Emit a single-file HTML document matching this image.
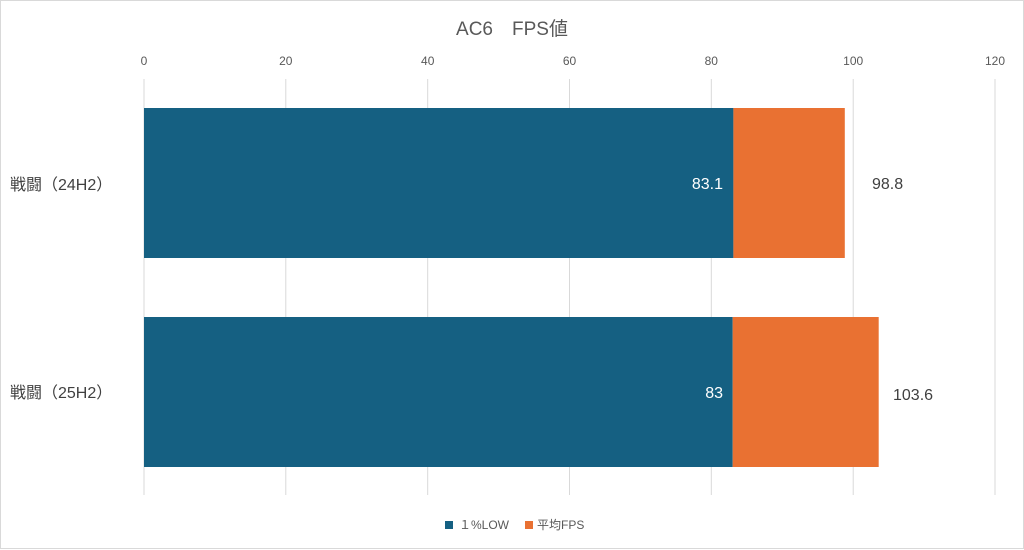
<!DOCTYPE html>
<html><head><meta charset="utf-8"><style>
html,body{margin:0;padding:0;background:#fff;}
svg{display:block;font-family:"Liberation Sans","Noto Sans CJK JP",sans-serif;}
</style></head><body>
<svg width="1024" height="550" viewBox="0 0 1024 550">
<rect x="0.5" y="0.5" width="1023" height="548" fill="#fff" stroke="#d9d9d9"/>
<text x="512" y="35" text-anchor="middle" font-size="19" fill="#595959">AC6　FPS値</text>
<g stroke="#d9d9d9" stroke-width="1">
<line x1="144" y1="79" x2="144" y2="495"/>
<line x1="285.8" y1="79" x2="285.8" y2="495"/>
<line x1="427.7" y1="79" x2="427.7" y2="495"/>
<line x1="569.5" y1="79" x2="569.5" y2="495"/>
<line x1="711.3" y1="79" x2="711.3" y2="495"/>
<line x1="853.2" y1="79" x2="853.2" y2="495"/>
<line x1="995" y1="79" x2="995" y2="495"/>
</g>
<g font-size="12" fill="#595959" text-anchor="middle">
<text x="144" y="65">0</text><text x="285.8" y="65">20</text><text x="427.7" y="65">40</text>
<text x="569.5" y="65">60</text><text x="711.3" y="65">80</text><text x="853.2" y="65">100</text><text x="995" y="65">120</text>
</g>
<rect x="144" y="108" width="589.4" height="150" fill="#156082"/>
<rect x="733.4" y="108" width="111.4" height="150" fill="#e97132"/>
<rect x="144" y="317" width="588.7" height="150" fill="#156082"/>
<rect x="732.7" y="317" width="146" height="150" fill="#e97132"/>
<text x="723" y="189" text-anchor="end" font-size="16" fill="#fff">83.1</text>
<text x="723" y="398" text-anchor="end" font-size="16" fill="#fff">83</text>
<text x="872" y="189" font-size="16" fill="#404040">98.8</text>
<text x="893" y="400" font-size="16" fill="#404040">103.6</text>
<text x="10" y="190" font-size="16" fill="#404040">戦闘（24H2）</text>
<text x="10" y="398" font-size="16" fill="#404040">戦闘（25H2）</text>
<rect x="445" y="521" width="8" height="8" fill="#156082"/>
<text x="459" y="529" font-size="12" fill="#595959">１%LOW</text>
<rect x="525" y="521" width="8" height="8" fill="#e97132"/>
<text x="537" y="529" font-size="12" fill="#595959">平均FPS</text>
</svg>
</body></html>
